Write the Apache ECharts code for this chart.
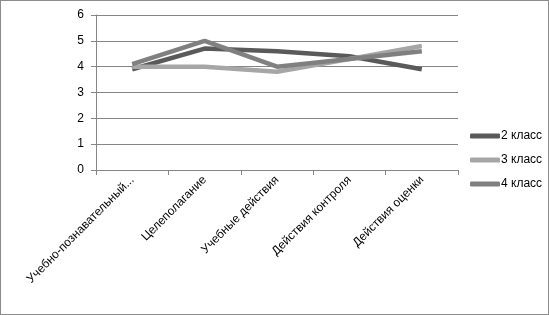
<!DOCTYPE html>
<html>
<head>
<meta charset="utf-8">
<script src="https://cdn.jsdelivr.net/npm/echarts@6/dist/echarts.min.js"></script>
<style>
  html, body { margin: 0; padding: 0; background: #fff; }
  #chart { width: 547px; height: 313px; border: 1px solid #8c8c8c; }
</style>
</head>
<body>
<div id="chart"></div>
<script>
// категории и значения по классам
const categories = ['Учебно-познавательный...', 'Целеполагание', 'Учебные действия', 'Действия контроля', 'Действия оценки'];
const class2 = [3.9, 4.7, 4.6, 4.4, 3.9];
const class3 = [4.0, 4.0, 3.8, 4.3, 4.8];
const class4 = [4.1, 5.0, 4.0, 4.3, 4.6];
const yTicks = [0, 1, 2, 3, 4, 5, 6];

const font = '"Liberation Sans", Arial, sans-serif';
const chart = echarts.init(document.getElementById('chart'));

const mkSeries = (name, data, color) => ({
    name: name,
    type: 'line',
    data: data,
    symbol: 'none',
    lineStyle: { color: color, width: 4.5 },
    itemStyle: { color: color },
    animation: false
});

chart.setOption({
    animation: false,
    grid: { left: 95, top: 14, width: 362, height: 155 },
    legend: {
        orient: 'vertical',
        left: 464,
        top: 124,
        itemWidth: 30,
        itemHeight: 5,
        itemGap: 12,
        icon: 'roundRect',
        textStyle: { fontFamily: font, fontSize: 12, color: '#000', padding: [0, 0, 0, -4] },
        data: ['2 класс', '3 класс', '4 класс']
    },
    xAxis: {
        type: 'category',
        data: categories,
        boundaryGap: true,
        axisLine: { lineStyle: { color: '#868686' } },
        axisTick: { show: true, length: 5, lineStyle: { color: '#868686' } },
        axisLabel: {
            rotate: 45,
            interval: 0,
            margin: 8,
            fontFamily: font,
            fontSize: 12,
            color: '#000'
        }
    },
    yAxis: {
        type: 'value',
        min: yTicks[0],
        max: yTicks[yTicks.length - 1],
        interval: 1,
        axisLine: { show: true, lineStyle: { color: '#868686' } },
        axisTick: { show: true, length: 5, lineStyle: { color: '#868686' } },
        splitLine: { lineStyle: { color: '#868686' } },
        axisLabel: { margin: 12, fontFamily: font, fontSize: 12, color: '#000' }
    },
    series: [
        mkSeries('2 класс', class2, '#5a5a5a'),
        mkSeries('3 класс', class3, '#a6a6a6'),
        mkSeries('4 класс', class4, '#808080')
    ]
});
</script>
</body>
</html>
